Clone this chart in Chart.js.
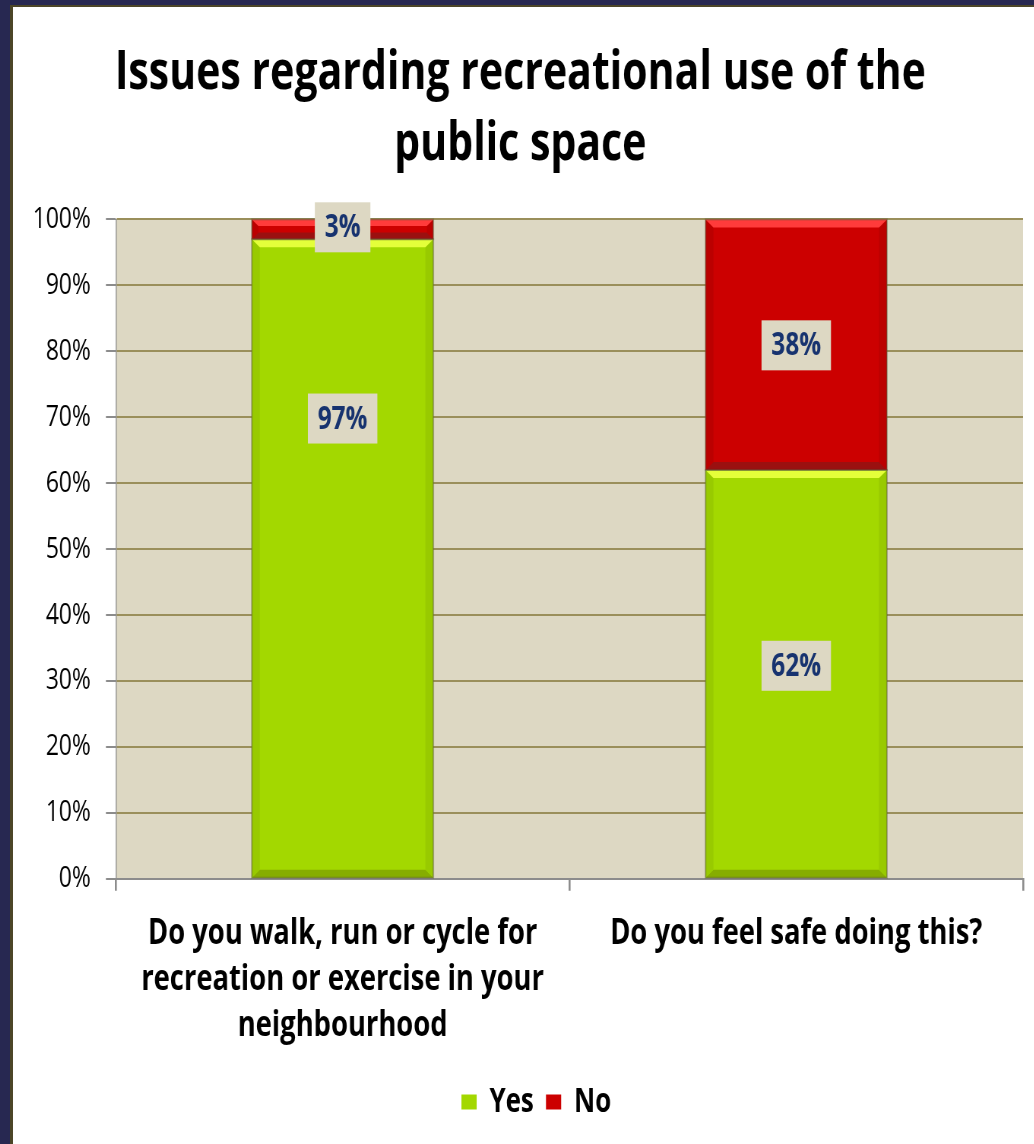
<!DOCTYPE html>
<html>
<head>
<meta charset="utf-8">
<script src="https://cdn.jsdelivr.net/npm/chart.js@4.4.1/dist/chart.umd.min.js"></script>
<style>
  html, body { margin: 0; padding: 0; }
  body { width: 1034px; height: 1144px; background: #272851; position: relative; overflow: hidden; }
  #panel {
    position: absolute; left: 10px; top: 5px; width: 1021px; height: 1137px; overflow: hidden;
    background: #fff; border-left: 3px solid #4c4628; border-top: 2px solid #4c4628;
  }
  /* the chart is laid out wide and squeezed horizontally for a condensed look */
  #squeeze { width: 1343px; height: 1137px; transform: scaleX(0.76); transform-origin: 0 0; }
</style>
</head>
<body>
<div id="panel"><div id="squeeze"><canvas id="chart" width="1343" height="1137"></canvas></div></div>
<script>
const FONT = '"Open Sans", sans-serif';

const TITLE_LINES = ['Issues regarding recreational use of the', 'public space'];
const CATEGORIES = [
    ['Do you walk, run or cycle for', 'recreation or exercise in your', 'neighbourhood'],
    'Do you feel safe doing this?'
];
const YES = [97, 62];
const NO = [3, 38];
// where each value label sits, in axis units
const YES_LABEL_AT = [69.8, 32.3];
const NO_LABEL_AT = [98.8, 80.9];

const PLOT_BG = '#ddd8c3';

// fill the plotting area behind the grid
const plotBackground = {
    id: 'plotBackground',
    beforeDraw(chart) {
        const { ctx, chartArea: a } = chart;
        ctx.save();
        ctx.fillStyle = PLOT_BG;
        ctx.fillRect(a.left, a.top, a.right - a.left, a.bottom - a.top);
        ctx.restore();
    }
};

// nudge the legend a little right of the canvas centre
const legendShift = {
    id: 'legendShift',
    afterLayout(chart) {
        chart.legend.left += 21;
        chart.legend.right += 21;
    }
};

// bevelled edges on the bars
const bevel = {
    id: 'bevel',
    afterDatasetsDraw(chart) {
        const ctx = chart.ctx;
        chart.data.datasets.forEach((ds, di) => {
            const meta = chart.getDatasetMeta(di);
            meta.data.forEach(bar => {
                const { x, y, base, width } = bar.getProps(['x', 'y', 'base', 'width'], true);
                const l = x - width / 2, r = x + width / 2;
                const t = Math.min(y, base), b = Math.max(y, base);
                const sy = Math.min(8, (b - t) / 3);
                const sx = sy * 1.3;
                const poly = (pts, color) => {
                    ctx.beginPath();
                    ctx.moveTo(pts[0][0], pts[0][1]);
                    pts.slice(1).forEach(p => ctx.lineTo(p[0], p[1]));
                    ctx.closePath();
                    ctx.fillStyle = color;
                    ctx.fill();
                };
                ctx.save();
                poly([[l, b], [r, b], [r - sx, b - sy], [l + sx, b - sy]], ds.bevelDark);
                poly([[l, t], [l + sx, t + sy], [l + sx, b - sy], [l, b]], ds.bevelSide);
                poly([[r, t], [r - sx, t + sy], [r - sx, b - sy], [r, b]], ds.bevelSide);
                poly([[l, t], [r, t], [r - sx, t + sy], [l + sx, t + sy]], ds.bevelLight);
                ctx.strokeStyle = 'rgba(90, 90, 60, 0.45)';
                ctx.lineWidth = 2;
                ctx.strokeRect(l, t, r - l, b - t);
                ctx.restore();
            });
        });
    }
};

// value labels in little boxes
const valueLabels = {
    id: 'valueLabels',
    afterDatasetsDraw(chart) {
        const { ctx, scales: { y: yScale } } = chart;
        ctx.save();
        ctx.font = 'bold 32px ' + FONT;
        ctx.textAlign = 'center';
        ctx.textBaseline = 'middle';
        chart.data.datasets.forEach((ds, di) => {
            const meta = chart.getDatasetMeta(di);
            meta.data.forEach((bar, i) => {
                const text = ds.data[i] + '%';
                const cx = bar.x;
                const cy = yScale.getPixelForValue(ds.labelAt[i]);
                const w = ctx.measureText(text).width + 26;
                const h = 50;
                ctx.fillStyle = PLOT_BG;
                ctx.fillRect(cx - w / 2, cy - h / 2, w, h);
                ctx.fillStyle = '#17336f';
                ctx.fillText(text, cx, cy + 1);
            });
        });
        ctx.restore();
    }
};

new Chart(document.getElementById('chart'), {
    type: 'bar',
    data: {
        labels: CATEGORIES,
        datasets: [
            {
                label: 'Yes', data: YES, labelAt: YES_LABEL_AT,
                backgroundColor: '#a3d800', bevelLight: '#e4ff3a', bevelSide: '#98ca00', bevelDark: '#86ad00',
                barPercentage: 0.4, categoryPercentage: 1
            },
            {
                label: 'No', data: NO, labelAt: NO_LABEL_AT,
                backgroundColor: '#cc0000', bevelLight: '#ff3b3b', bevelSide: '#bb0000', bevelDark: '#9b1010',
                barPercentage: 0.4, categoryPercentage: 1
            }
        ]
    },
    options: {
        responsive: false,
        animation: false,
        devicePixelRatio: 1,
        layout: { padding: { left: 6, right: 14, bottom: 15 } },
        plugins: {
            title: {
                display: true,
                text: TITLE_LINES,
                color: '#000',
                font: { family: FONT, size: 54, weight: 'bold', lineHeight: 1.3 },
                padding: { top: 32, bottom: 40 }
            },
            legend: {
                position: 'bottom',
                labels: {
                    boxWidth: 20, boxHeight: 15, color: '#000', padding: 16,
                    font: { family: FONT, size: 34, weight: 'bold' }
                }
            },
            tooltip: { enabled: false }
        },
        scales: {
            x: {
                stacked: true,
                grid: { drawOnChartArea: false, tickLength: 12, color: '#8c8c8c', lineWidth: 2.6 },
                border: { color: '#8c8c8c', width: 2 },
                ticks: {
                    color: '#000', padding: 20, maxRotation: 0, autoSkip: false,
                    font: { family: FONT, size: 36, weight: 'bold', lineHeight: 1.28 }
                }
            },
            y: {
                stacked: true,
                min: 0, max: 100,
                ticks: {
                    stepSize: 10, padding: 20, color: '#000',
                    callback: v => v + '%',
                    font: { family: FONT, size: 30 }
                },
                grid: { color: '#9a8f5b', lineWidth: 2, tickColor: '#8c8c8c', tickLength: 13, tickWidth: 2 },
                border: { color: '#8c8c8c', width: 1.3 }
            }
        }
    },
    plugins: [plotBackground, legendShift, bevel, valueLabels]
});
</script>
</body>
</html>
